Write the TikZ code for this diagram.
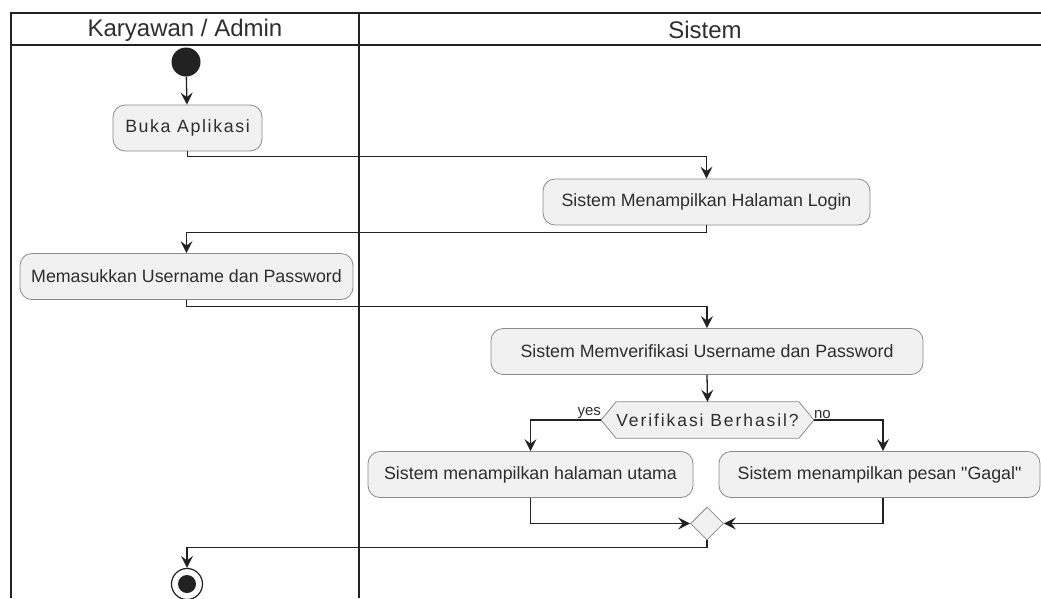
\documentclass[tikz,border=0pt]{standalone}
\usepackage{fontspec}
\setmainfont{Liberation Sans}
\usetikzlibrary{arrows.meta,shapes.geometric,backgrounds}
\definecolor{boxfill}{HTML}{F1F1F1}
\definecolor{boxline}{HTML}{8A8A8A}
\definecolor{ink}{HTML}{222222}
\definecolor{txt}{HTML}{2E2E2E}
\begin{document}
\begin{tikzpicture}[x=1pt,y=-1pt,
  act/.style={draw=boxline, fill=boxfill, rounded corners=12pt, minimum height=46pt,
    inner sep=0pt, text=txt, font=\fontsize{17.8}{20}\selectfont, line width=0.8pt},
  flow/.style={draw=ink, line width=1.3pt, -{Stealth[length=12pt,width=12pt,inset=4.5pt]}},
  lane/.style={draw=ink, line width=1.4pt},
  hdr/.style={text=txt, font=\fontsize{24}{28}\selectfont, inner sep=0pt},
  lbl/.style={text=txt, font=\fontsize{15}{17}\selectfont, inner sep=0pt}]
\useasboundingbox (0,0) rectangle (1041,598);
% swimlanes
\draw[lane] (11,598) -- (11,13) -- (1041,13);
\draw[lane] (11,45) -- (1041,45);
\draw[lane] (359,13) -- (359,598);
\node[hdr] (h1) at (185,30) {Karyawan / Admin};
\node[hdr] (h2) at (705,30) {Sistem};
% nodes
\node[circle, fill=ink, minimum size=29pt, inner sep=0pt] (start) at (186,62) {};
\node[act, minimum width=149pt] (buka) at (187.5,128) {\addfontfeature{LetterSpace=9}Buka Aplikasi};
\node[act, minimum width=327pt] (login) at (706.5,202) {Sistem Menampilkan Halaman Login};
\node[act, minimum width=333pt] (masuk) at (186.5,276.5) {Memasukkan Username dan Password};
\node[act, minimum width=432pt] (verif) at (707,351.5) {Sistem Memverifikasi Username dan Password};
\node[text=txt, font=\fontsize{17.5}{20}\selectfont, inner sep=0pt, minimum width=175pt, minimum height=36pt]
  (dec) at (707.5,420) {\addfontfeature{LetterSpace=11}Verifikasi Berhasil?};
\coordinate (decL) at ([xshift=-15pt]dec.west);
\coordinate (decR) at ([xshift=15pt]dec.east);
\begin{scope}[on background layer]
\fill[white] (0,0) rectangle (1041,598);
\filldraw[fill=boxfill, draw=boxline, line width=0.8pt]
  (dec.north west) -- (dec.north east) -- (decR) -- (dec.south east) -- (dec.south west) -- (decL) -- cycle;
\end{scope}
\node[lbl, anchor=south east] (yes) at ([yshift=1.5pt]decL) {yes};
\node[lbl, anchor=south west] (no) at ([yshift=1.5pt]decR) {no};
\node[act, minimum width=325pt] (utama) at (530.5,474.5) {Sistem menampilkan halaman utama};
\node[act, minimum width=321pt] (gagal) at (879.5,474.5) {\addfontfeature{Ligatures=TeXOff}Sistem menampilkan pesan "Gagal"};
\node[diamond, draw=boxline, fill=boxfill, line width=0.8pt, minimum width=33pt, minimum height=33pt, inner sep=0pt] (merge) at (707,523.5) {};
\node[circle, draw=ink, fill=white, line width=1.2pt, minimum size=31pt, inner sep=0pt] (end) at (187,584) {};
\node[circle, fill=ink, minimum size=18pt, inner sep=0pt] (endin) at (end.center) {};
% connectors
\draw[flow] (start) -- (buka);
\draw[flow] (buka.south) -- ++(0,5) -| (login.north);
\draw[flow] (login.south) -- ++(0,7) -| (masuk.north);
\draw[flow] (masuk.south) -- ++(0,6.5) -| (verif.north);
\draw[flow] (verif.south) -- (dec.north);
\draw[flow] (decL) -| (utama.north);
\draw[flow] (decR) -| ([xshift=3.5pt]gagal.north);
\draw[flow] (utama.south) |- (merge.west);
\draw[flow] ([xshift=3.5pt]gagal.south) |- (merge.east);
\draw[flow] (merge.south) -- ++(0,7) -| (end.north);
\end{tikzpicture}
\end{document}
